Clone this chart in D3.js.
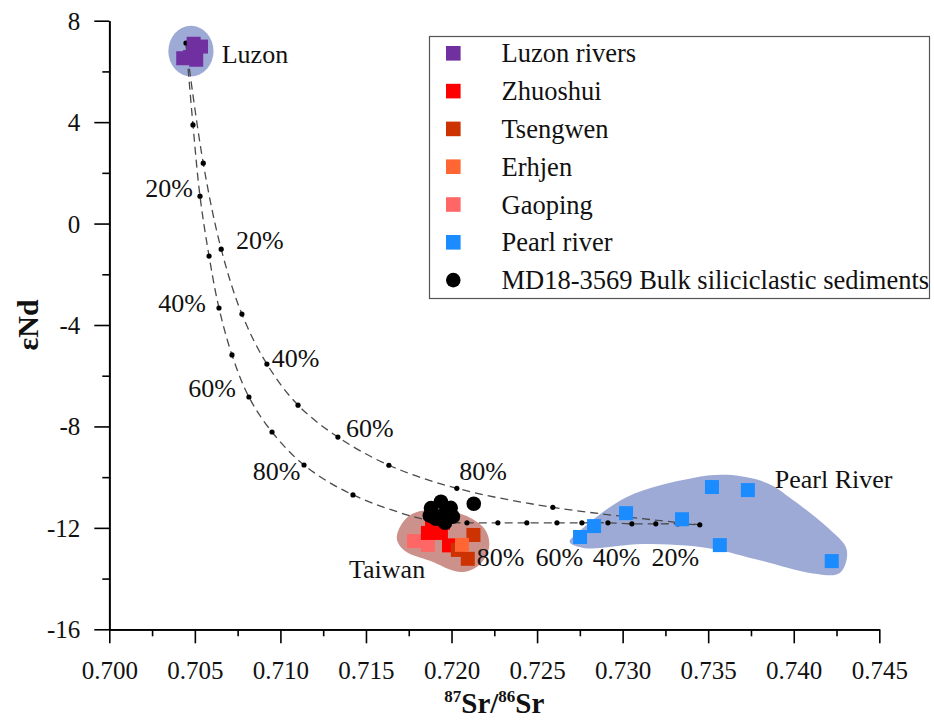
<!DOCTYPE html>
<html><head><meta charset="utf-8">
<script src="https://cdn.jsdelivr.net/npm/d3@7"></script>
<style>html,body{margin:0;padding:0;background:#fff;} svg{display:block;font-family:"Liberation Serif","Times New Roman",serif;}</style>
</head><body><svg id="chart" width="934" height="722"></svg>
<script>
// ---------------- DATA ----------------
const xTicks = [0.700, 0.705, 0.710, 0.715, 0.720, 0.725, 0.730, 0.735, 0.740, 0.745];
const xMinorTicks = [0.7025, 0.7075, 0.7125, 0.7175, 0.7225, 0.7275, 0.7325, 0.7375, 0.7425];
const yTicks = [8, 4, 0, -4, -8, -12, -16];
const yMinorTicks = [6, 2, -2, -6, -10, -14];

const seriesNames = ["Luzon rivers", "Zhuoshui", "Tsengwen", "Erhjen", "Gaoping", "Pearl river", "MD18-3569 Bulk siliciclastic sediments"];

// [87Sr/86Sr, eNd]
const luzonRivers = [[0.70493, 7.09], [0.70536, 6.98], [0.70432, 6.52], [0.70508, 6.46], [0.70472, 6.57]];
const zhuoshui = [[0.71886, -11.80], [0.71950, -11.80], [0.71862, -12.20], [0.71938, -12.20], [0.71985, -12.69]];
const tsengwen = [[0.72128, -12.28], [0.72037, -12.87], [0.72095, -13.22]];
const erhjen = [[0.72061, -12.67]];
const gaoping = [[0.71781, -12.52], [0.71862, -12.67]];
const pearlRiver = [[0.73522, -10.39], [0.73732, -10.51], [0.73020, -11.42], [0.73347, -11.66], [0.72833, -11.93], [0.72751, -12.36], [0.73568, -12.68], [0.74222, -13.31]];
const md18 = [[0.71938, -10.97], [0.71880, -11.22], [0.71995, -11.21], [0.71950, -11.49], [0.71909, -11.64], [0.72008, -11.56], [0.71962, -11.80], [0.71873, -11.52], [0.72130, -11.05]];

// mixing end-members and mixing curve points
const endLuzon = [0.70448, 7.12];
const endPearl = [0.73451, -11.88];
const mixCurveA = [[0.70489, 3.89], [0.70530, 1.08], [0.70583, -1.28], [0.70641, -3.33], [0.70717, -5.18], [0.70816, -6.84], [0.70951, -8.22], [0.71138, -9.52], [0.71424, -10.70], [0.71886, -11.73], [0.72090, -11.80], [0.72271, -11.80], [0.72440, -11.80], [0.72616, -11.80], [0.72762, -11.80], [0.72914, -11.80], [0.73054, -11.84], [0.73194, -11.84], [0.73323, -11.84]];
const mixCurveB = [[0.70549, 2.38], [0.70654, -1.01], [0.70775, -3.57], [0.70921, -5.54], [0.71103, -7.16], [0.71336, -8.42], [0.71634, -9.53], [0.72031, -10.44], [0.72592, -11.19]];

// source fields (outlines in data units)
const luzonField = {cx: 0.70477, cy: 6.80, rx: 0.00132, ry: 1.0};
const taiwanField = [[0.71699, -11.96], [0.71769, -11.45], [0.71932, -11.29], [0.72108, -11.60], [0.72201, -12.12], [0.72219, -12.79], [0.72155, -13.50], [0.72049, -13.74], [0.71874, -13.30], [0.71728, -12.91], [0.71681, -12.47]];
const pearlField = [[0.72745, -12.15], [0.73025, -10.78], [0.73411, -10.03], [0.73610, -9.91], [0.73843, -10.23], [0.73995, -10.90], [0.74193, -11.96], [0.74310, -12.87], [0.74269, -13.78], [0.74111, -13.80], [0.73802, -13.28], [0.73510, -12.81], [0.73118, -12.64], [0.72780, -12.80], [0.72690, -12.56]];

// annotations [text, x, y]
const regionLabels = [["Luzon", 0.70657, 6.34], ["Taiwan", 0.71401, -13.98], ["Pearl River", 0.73889, -10.43]];
const pctLabels = [
  ["20%", 0.70210, 1.04], ["40%", 0.70286, -3.48], ["60%", 0.70462, -6.83], ["80%", 0.70838, -10.11],
  ["20%", 0.70740, -1.01], ["40%", 0.70949, -5.64], ["60%", 0.71383, -8.43], ["80%", 0.72045, -10.11],
  ["80%", 0.72147, -13.50], ["60%", 0.72491, -13.50], ["40%", 0.72826, -13.50], ["20%", 0.73169, -13.50]
];

// ---------------- STYLE ----------------
const colors = {"Luzon rivers": "#7030A0", "Zhuoshui": "#FF0000", "Tsengwen": "#CC3300", "Erhjen": "#FF6633", "Gaoping": "#FF6666", "Pearl river": "#1A8CFF"};
const fieldBlue = "#9DAAD6";
const fieldTaiwan = "#CD918B";

// ---------------- CHART ----------------
const svg = d3.select("#chart");
const x = d3.scaleLinear().domain([0.700, 0.745]).range([109.3, 879.3]);
const y = d3.scaleLinear().domain([-16, 8]).range([629.3, 20.7]);

// fields
svg.append("ellipse")
  .attr("cx", x(luzonField.cx)).attr("cy", y(luzonField.cy))
  .attr("rx", x(luzonField.cx + luzonField.rx) - x(luzonField.cx))
  .attr("ry", y(luzonField.cy - luzonField.ry) - y(luzonField.cy))
  .attr("fill", fieldBlue);
const closed = d3.line().x(d => x(d[0])).y(d => y(d[1])).curve(d3.curveCatmullRomClosed.alpha(0.5));
svg.append("path").attr("d", closed(taiwanField)).attr("fill", fieldTaiwan);
svg.append("path").attr("d", closed(pearlField)).attr("fill", fieldBlue);

// mixing curves
const open = d3.line().x(d => x(d[0])).y(d => y(d[1])).curve(d3.curveCatmullRom.alpha(0.5));
[mixCurveA, mixCurveB].forEach(c => {
  svg.append("path").attr("d", open([endLuzon, ...c, endPearl]))
    .attr("fill", "none").attr("stroke", "#4a4a4a").attr("stroke-width", 1.3).attr("stroke-dasharray", "8,5");
});
svg.append("g").selectAll("circle").data([endLuzon, ...mixCurveA, ...mixCurveB, endPearl]).join("circle")
  .attr("cx", d => x(d[0])).attr("cy", d => y(d[1])).attr("r", 2.6).attr("fill", "#000");

// squares
const sq = 14;
const drawSquares = (data, name) => svg.append("g").selectAll("rect").data(data).join("rect")
  .attr("x", d => x(d[0]) - sq / 2).attr("y", d => y(d[1]) - sq / 2)
  .attr("width", sq).attr("height", sq).attr("fill", colors[name]);
drawSquares(luzonRivers, "Luzon rivers");
drawSquares(gaoping, "Gaoping");
drawSquares(zhuoshui, "Zhuoshui");
drawSquares(tsengwen, "Tsengwen");
drawSquares(erhjen, "Erhjen");
drawSquares(pearlRiver, "Pearl river");

// MD18 circles
svg.append("g").selectAll("circle").data(md18).join("circle")
  .attr("cx", d => x(d[0])).attr("cy", d => y(d[1])).attr("r", 7.3).attr("fill", "#000");

// labels
svg.append("g").selectAll("text").data(regionLabels).join("text")
  .attr("x", d => x(d[1])).attr("y", d => y(d[2])).attr("font-size", 26).attr("fill", "#111").text(d => d[0]);
svg.append("g").selectAll("text").data(pctLabels).join("text")
  .attr("x", d => x(d[1])).attr("y", d => y(d[2])).attr("font-size", 26).attr("fill", "#111").text(d => d[0]);

// axes
const gx = svg.append("g").attr("transform", `translate(0,${y(-16)})`);
gx.call(d3.axisBottom(x).tickValues(xTicks).tickFormat(d3.format(".3f")).tickSize(14).tickSizeOuter(0));
gx.append("g").call(d3.axisBottom(x).tickValues(xMinorTicks).tickFormat("").tickSize(7).tickSizeOuter(0));
const gy = svg.append("g").attr("transform", `translate(${x(0.700)},0)`);
gy.call(d3.axisLeft(y).tickValues(yTicks).tickFormat(d => String(d)).tickSize(15).tickSizeOuter(0));
gy.append("g").call(d3.axisLeft(y).tickValues(yMinorTicks).tickFormat("").tickSize(7).tickSizeOuter(0));
svg.selectAll(".domain").attr("stroke", "#000").attr("stroke-width", 1.7);
svg.selectAll(".tick line").attr("stroke", "#000").attr("stroke-width", 1.6);
gx.selectAll(".tick text").attr("font-size", 25).attr("font-family", "Liberation Serif").attr("fill", "#111").attr("dy", 0).attr("y", 50);
gy.selectAll(".tick text").attr("font-size", 25).attr("font-family", "Liberation Serif").attr("fill", "#111").attr("x", -29).attr("dy", "0.34em");

// axis titles
const xt = svg.append("text").attr("x", x(0.7225)).attr("y", 713).attr("text-anchor", "middle")
  .attr("font-size", 29).attr("font-weight", "bold").attr("fill", "#111");
xt.append("tspan").attr("font-size", 17).attr("dy", -11).text("87");
xt.append("tspan").attr("dy", 11).text("Sr/");
xt.append("tspan").attr("font-size", 17).attr("dy", -11).text("86");
xt.append("tspan").attr("dy", 11).text("Sr");
svg.append("text").attr("transform", `translate(38,${y(-4)}) rotate(-90)`).attr("text-anchor", "middle")
  .attr("font-size", 30).attr("font-weight", "bold").attr("fill", "#111").text("εNd");

// legend
const lg = svg.append("g");
lg.append("rect").attr("x", 429.5).attr("y", 36.5).attr("width", 500).attr("height", 262)
  .attr("fill", "#fff").attr("stroke", "#555").attr("stroke-width", 1.2);
seriesNames.forEach((name, i) => {
  const cy = 53.3 + i * 37.8;
  if (colors[name]) {
    lg.append("rect").attr("x", 446).attr("y", cy - 7.3).attr("width", 14.6).attr("height", 14.6).attr("fill", colors[name]);
  } else {
    lg.append("circle").attr("cx", 453.3).attr("cy", cy).attr("r", 7.3).attr("fill", "#000");
  }
  lg.append("text").attr("x", 501.5).attr("y", cy).attr("dy", "0.34em").attr("font-size", 26.5).attr("fill", "#111").text(name);
});
</script></body></html>
